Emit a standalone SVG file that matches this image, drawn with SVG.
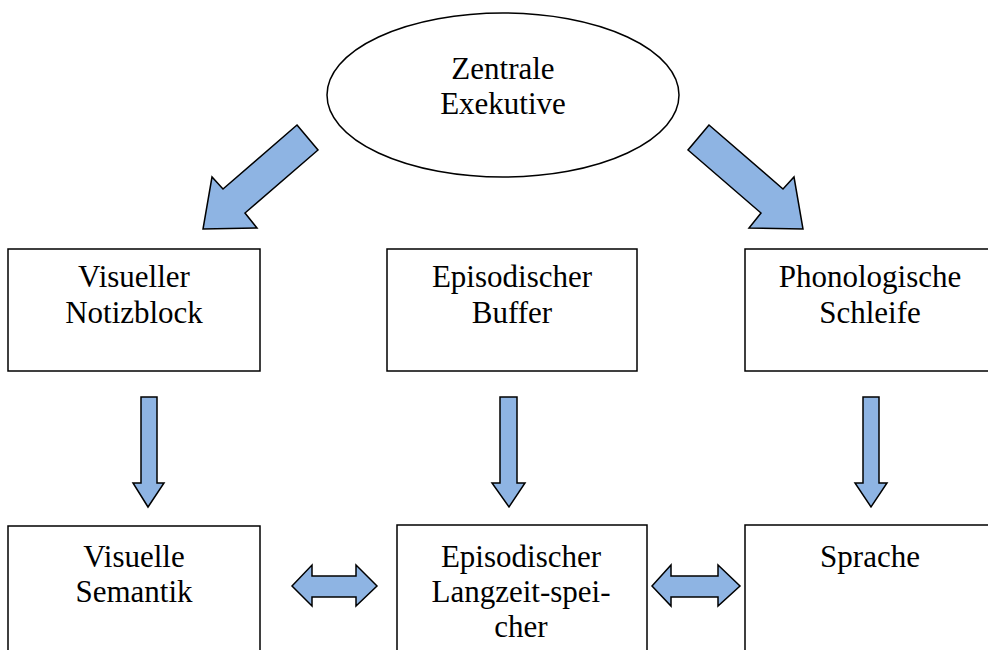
<svg xmlns="http://www.w3.org/2000/svg" width="988" height="650" viewBox="0 0 988 650">
<style>
.box{fill:#fff;stroke:#000;stroke-width:1.5}
.arr{fill:#8EB4E3;stroke:#000;stroke-width:1.5;stroke-linejoin:miter}
text{font-family:"Liberation Serif","Times New Roman",serif;font-size:31px;fill:#000;text-anchor:middle}
</style>
<rect width="988" height="650" fill="#fff"/>
<g id="zentrale">
<ellipse class="box" cx="503" cy="95" rx="176" ry="82"/>
<text x="503" y="79">Zentrale</text>
<text x="503" y="114">Exekutive</text>
</g>
<g id="visueller-notizblock">
<rect class="box" x="8" y="249" width="252" height="122"/>
<text x="134" y="287">Visueller</text>
<text x="134" y="323">Notizblock</text>
</g>
<g id="episodischer-buffer">
<rect class="box" x="387" y="249" width="250" height="122"/>
<text x="512" y="287">Episodischer</text>
<text x="512" y="323">Buffer</text>
</g>
<g id="phonologische-schleife">
<rect class="box" x="745" y="249" width="255" height="122"/>
<text x="870" y="287">Phonologische</text>
<text x="870" y="323">Schleife</text>
</g>
<g id="visuelle-semantik">
<rect class="box" x="8" y="526" width="252" height="140"/>
<text x="134" y="567">Visuelle</text>
<text x="134" y="602">Semantik</text>
</g>
<g id="episodischer-langzeitspeicher">
<rect class="box" x="397" y="525" width="250" height="140"/>
<text x="521" y="567">Episodischer</text>
<text x="521" y="602">Langzeit-spei-</text>
<text x="521" y="637">cher</text>
</g>
<g id="sprache">
<rect class="box" x="745" y="525" width="255" height="140"/>
<text x="870" y="567">Sprache</text>
</g>
<g id="connectors">
<polygon class="arr" points="297,125 318,150 245,213 257,228 203,229 212,177 223,189"/>
<polygon class="arr" points="709,125 688,150 761,213 749,228 803,229 794,177 783,189"/>
<polygon class="arr" points="141,397 157,397 157,483 164,483 148,507 133,483 141,483"/>
<polygon class="arr" points="500,397 517,397 517,483 525,483 509,507 492,483 500,483"/>
<polygon class="arr" points="863,397 879,397 879,483 887,483 871,507 855,483 863,483"/>
<polygon class="arr" points="292,586 312,565 312,576 356,576 356,565 377,586 356,606 356,597 312,597 312,606"/>
<polygon class="arr" points="652,586 671,565 671,576 718,576 718,565 740,586 718,606 718,597 671,597 671,606"/>
</g>
</svg>
